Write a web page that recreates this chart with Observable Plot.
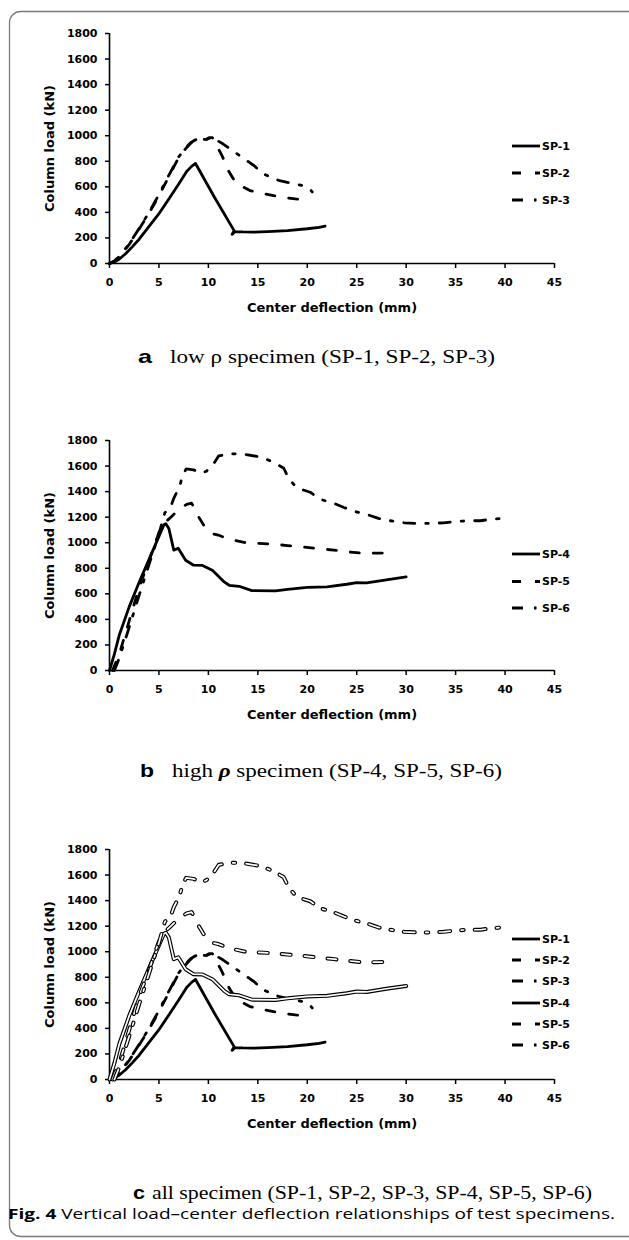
<!DOCTYPE html>
<html><head><meta charset="utf-8">
<script src="https://cdn.jsdelivr.net/npm/d3@7"></script>
<script src="https://cdn.jsdelivr.net/npm/@observablehq/plot@0.6"></script>
<style>
body{margin:0;background:#fff;}
#root{position:relative;width:629px;height:1240px;overflow:hidden;background:#fff;}
#root > svg.panel{position:absolute;left:0;}
#overlay{position:absolute;left:0;top:0;}
</style></head><body><div id="root"></div>
<script>
// ---- data ----
const xTicks = [0, 5, 10, 15, 20, 25, 30, 35, 40, 45];
const yTicks = [0, 200, 400, 600, 800, 1000, 1200, 1400, 1600, 1800];
const xLabel = "Center deflection (mm)";
const yLabel = "Column load (kN)";
const groupA = ["SP-1", "SP-2", "SP-3"];
const groupB = ["SP-4", "SP-5", "SP-6"];
const groupC = ["SP-1", "SP-2", "SP-3", "SP-4", "SP-5", "SP-6"];

const sp1 = [[0,0],[0.5,12],[1,35],[1.6,74],[2.3,130],[3,190],[4,290],[5,390],[6,505],[7,623],[7.8,720],[8.3,760],[8.7,783],[10.6,520],[12.6,257],[12.4,228],[12.7,250],[13.5,247],[14.5,245],[16,250],[18,258],[20,272],[21.2,283],[21.8,292]];
const sp2 = [[0,0],[0.5,20],[1,55],[2,150],[3,270],[4,395],[5,530],[6,680],[7,830],[7.6,890],[8.2,940],[8.7,965],[9.3,972],[9.8,970],[10.2,985],[10.4,985],[10.8,930],[11.4,840],[12,730],[12.5,665],[13,620],[14.2,571],[15.5,548],[16.6,531],[17.8,515],[18.8,505],[19.5,500]];
const sp3 = [[0,0],[0.5,20],[1,55],[2,155],[3,275],[4,400],[5,540],[6,690],[7,835],[7.6,895],[8.2,945],[8.7,968],[9.3,972],[9.8,972],[10.2,990],[10.4,985],[11.5,935],[12.6,875],[13.6,820],[14.6,767],[15.5,705],[16.4,670],[17.2,648],[18.6,625],[19.5,610],[20,595],[20.3,580],[20.5,560]];
const sp4 = [[0,0],[0.5,130],[1,280],[2,500],[3,690],[4,870],[5,1050],[5.5,1140],[5.7,1148],[6.0,1112],[6.5,942],[6.95,957],[7.7,863],[8.5,824],[9.4,822],[10.4,785],[11.6,693],[12.1,667],[13.1,659],[14.4,625],[16.8,623],[18,635],[20,650],[22,655],[24,675],[25,688],[26,685],[28,710],[30,732]];
const sp5 = [[0.3,0],[1,130],[2,390],[3,650],[4,860],[5,1080],[5.5,1150],[6.2,1200],[7,1260],[7.8,1300],[8.3,1310],[8.7,1256],[9.0,1204],[9.5,1140],[10.4,1070],[11,1060],[12,1030],[13.6,1002],[15,995],[16.5,989],[18,978],[19.6,967],[21,955],[22.7,942],[24,930],[25.5,918],[27,918],[28.9,921]];
const sp6 = [[0.5,0],[1,100],[2,340],[3,590],[4,830],[5,1070],[5.6,1235],[6.2,1282],[6.5,1348],[7.1,1440],[7.35,1518],[7.75,1578],[8.5,1570],[9.3,1544],[9.8,1560],[10.2,1591],[10.45,1609],[11.05,1680],[12.15,1696],[13.35,1696],[15.3,1670],[16.45,1635],[17.6,1585],[18.1,1507],[18.8,1440],[19.5,1415],[20.3,1395],[21.3,1340],[22.7,1308],[23.7,1276],[24.9,1243],[26.2,1217],[27.2,1190],[28.4,1172],[29.8,1156],[31.1,1151],[32.5,1151],[33.8,1156],[34.8,1164],[36.2,1172],[37.5,1172],[38.5,1183],[39.9,1191]];

const captionA = ["a", "low ρ specimen (SP-1, SP-2, SP-3)"];
const captionB = ["b", "high", "ρ", "specimen (SP-4, SP-5, SP-6)"];
const captionC = ["c", "all specimen (SP-1, SP-2, SP-3, SP-4, SP-5, SP-6)"];
const figCaption = ["Fig. 4", "Vertical load–center deflection relationships of test specimens."];

// ---- styles ----
const seriesPoints = {"SP-1": sp1, "SP-2": sp2, "SP-3": sp3, "SP-4": sp4, "SP-5": sp5, "SP-6": sp6};
const dashOf = {"SP-1": undefined, "SP-2": "9,14", "SP-3": "11,11,2.5,11",
                "SP-4": undefined, "SP-5": "9,14", "SP-6": "11,11,2.5,11"};
const rowsOf = name => seriesPoints[name].map(([x, y]) => ({name, x, y}));

function makePanel(names, hollow) {
  const marks = [
    Plot.ruleY([0], {stroke: "black", strokeWidth: 1.6}),
    Plot.ruleX([0], {stroke: "black", strokeWidth: 1.6}),
    Plot.axisX({ticks: xTicks, tickFormat: "d", tickSize: 5, tickPadding: 10, strokeWidth: 1.5,
      label: xLabel, labelAnchor: "center", labelArrow: "none", labelOffset: 48, fontWeight: "bold"}),
    Plot.axisY({ticks: yTicks, tickFormat: "d", tickSize: 4, tickPadding: 8, strokeWidth: 1.5,
      label: yLabel, labelAnchor: "center", labelArrow: "none", labelOffset: 65, fontWeight: "bold"})
  ];
  for (const n of names) {
    const d = rowsOf(n);
    if (hollow.includes(n)) {
      marks.push(Plot.line(d, {x: "x", y: "y", stroke: "black", strokeWidth: 4,
        strokeDasharray: dashOf[n], strokeLinecap: "round", strokeLinejoin: "round"}));
      marks.push(Plot.line(d, {x: "x", y: "y", stroke: "white", strokeWidth: 1.7,
        strokeDasharray: dashOf[n], strokeLinecap: "round", strokeLinejoin: "round"}));
    } else {
      marks.push(Plot.line(d, {x: "x", y: "y", stroke: "black", strokeWidth: 2.8,
        strokeDasharray: dashOf[n], strokeLinejoin: "round"}));
    }
  }
  const svg = Plot.plot({
    width: 629, height: 318,
    marginLeft: 109, marginRight: 75, marginTop: 33, marginBottom: 55,
    x: {domain: [0, 45]},
    y: {domain: [0, 1800]},
    style: {fontFamily: "DejaVu Sans", fontSize: "11px", fontWeight: "bold", color: "black", background: "transparent", overflow: "visible"},
    marks
  });
  svg.querySelectorAll('[aria-label="x-axis label"] text, [aria-label="y-axis label"] text')
     .forEach(t => t.setAttribute("font-size", "13"));
  svg.classList.add("panel");
  return svg;
}

const root = document.getElementById("root");
const panels = [
  {names: groupA, hollow: [], top: 0},
  {names: groupB, hollow: [], top: 407},
  {names: groupC, hollow: groupB, top: 816}
];
for (const p of panels) {
  const s = makePanel(p.names, p.hollow);
  s.style.top = p.top + "px";
  root.appendChild(s);
}

// ---- overlay: legends, captions, frame ----
const ov = d3.select(root).append("svg").attr("id", "overlay").attr("width", 629).attr("height", 1240);
ov.append("rect").attr("x", 9.5).attr("y", 11.5).attr("width", 700).attr("height", 1225)
  .attr("rx", 11).attr("fill", "none").attr("stroke", "#7a7a7a").attr("stroke-width", 1.3);

function legend(names, ys) {
  names.forEach((n, i) => {
    ov.append("line").attr("x1", 512).attr("x2", 540).attr("y1", ys[i]).attr("y2", ys[i])
      .attr("stroke", "black").attr("stroke-width", 2.8)
      .attr("stroke-dasharray", dashOf[n] || null);
    ov.append("text").attr("x", 542).attr("y", ys[i]).attr("dy", "0.36em")
      .attr("font-family", "DejaVu Sans").attr("font-weight", "bold").attr("font-size", 11)
      .text(n);
  });
}
legend(groupA, [146, 173, 200]);
legend(groupB, [554, 581.5, 608]);
legend(groupC, [939, 960, 981, 1003, 1024, 1045]);

function fitText(x, y, w, family, size, weight) {
  return ov.append("text").attr("x", x).attr("y", y)
    .attr("font-family", family).attr("font-size", size).attr("font-weight", weight || "normal")
    .attr("textLength", w).attr("lengthAdjust", "spacingAndGlyphs");
}
// caption a
fitText(138, 363, 14, "Liberation Sans", 19, "bold").text(captionA[0]);
fitText(170, 363, 325, "Liberation Serif", 19).text(captionA[1]);
// caption b
fitText(140, 777, 14, "Liberation Sans", 19, "bold").text(captionB[0]);
{
  const t = fitText(172, 777, 330, "Liberation Serif", 19);
  t.append("tspan").text(captionB[1] + "  ");
  t.append("tspan").attr("font-weight", "bold").attr("font-style", "italic").text(captionB[2]);
  t.append("tspan").text("  " + captionB[3]);
}
// caption c
fitText(133, 1199, 12, "Liberation Sans", 19, "bold").text(captionC[0]);
fitText(152, 1199, 440, "Liberation Serif", 19).text(captionC[1]);
// figure caption
{
  const t = fitText(8, 1219, 607, "Open Sans", 15);
  t.append("tspan").attr("font-weight", "bold").text(figCaption[0]);
  t.append("tspan").text("  " + figCaption[1]);
}
</script></body></html>
